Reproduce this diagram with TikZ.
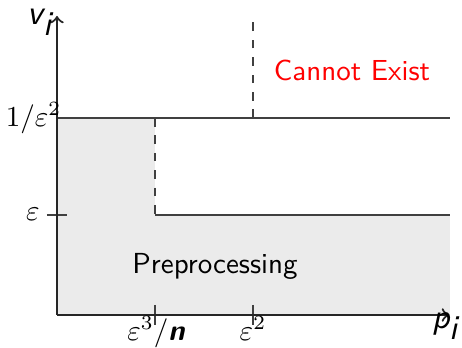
\documentclass[tikz,border=0pt]{standalone}
\usepackage{tikz}
\begin{document}
\begin{tikzpicture}[x=0.345pt,y=-0.345pt,
  axis/.style={line width=0.75pt,black!85,->},
  thin line/.style={line width=0.45pt,black!75},
  dline/.style={line width=0.45pt,black!75,dashed},
  lbl/.style={inner sep=0pt,font=\sffamily},
  every node/.style={inner sep=0pt}]
\useasboundingbox (0,0) rectangle (462,348);
\coordinate (O) at (57,315);
\coordinate (xend) at (449,315);
\coordinate (yend) at (57,16);
\coordinate (a) at (57,118);
\coordinate (b) at (155,118);
\coordinate (c) at (155,215);
\coordinate (d) at (450,215);
\coordinate (e) at (450,315);
\coordinate (f) at (450,118);
\coordinate (g) at (253,118);
\coordinate (h) at (253,18);
\fill[black!8] (O) -- (a) -- (b) -- (c) -- (d) -- (e) -- cycle;
\draw[thin line] (a) -- (f);
\draw[thin line] (c) -- (d);
\draw[dline] (b) -- (c);
\draw[dline] (g) -- (h);
\draw[thin line] (47,215) -- (67,215);
\draw[thin line] (155,305) -- (155,325);
\draw[thin line] (253,305) -- (253,325);
\draw[axis] (O) -- (xend);
\draw[axis] (O) -- (yend);
\node[lbl,anchor=east] (l1) at (62,118) {$1/\varepsilon^2$};
\node[lbl] (l2) at (33,214) {$\varepsilon$};
\node[lbl,anchor=north] (l3) at (156,316) {$\varepsilon^3/\textit{\textbf{n}}$};
\node[lbl,anchor=north] (l4) at (253,316) {$\varepsilon^2$};
\node[lbl,font=\sffamily\large\itshape] (vi) at (40,22) {v$_{\textit{i}}$};
\node[lbl,font=\sffamily\large\itshape] (pi) at (446,326) {p$_{\textit{i}}$};
\node[lbl,text=red] (ce) at (352,70) {Cannot Exist};
\node[lbl] (pp) at (215,266) {Preprocessing};
\end{tikzpicture}
\end{document}
